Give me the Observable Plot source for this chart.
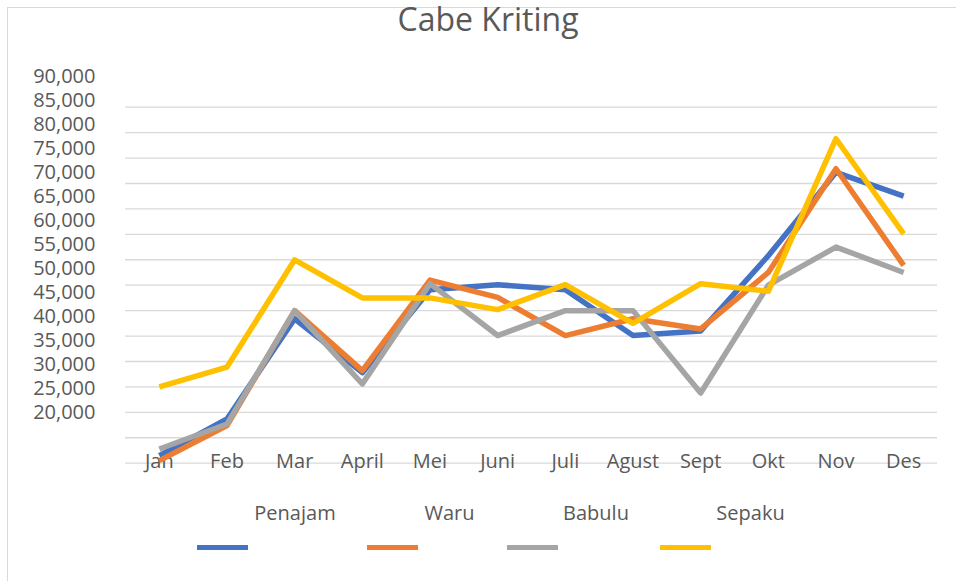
<!DOCTYPE html>
<html>
<head>
<meta charset="utf-8">
<script src="https://cdn.jsdelivr.net/npm/d3@7"></script>
<script src="https://cdn.jsdelivr.net/npm/@observablehq/plot@0.6"></script>
<style>
  html, body { margin: 0; padding: 0; background: #fff; }
  body { width: 956px; height: 581px; position: relative; overflow: hidden; font-family: "Open Sans", sans-serif; }
  #frame { position: absolute; left: 7px; top: 7px; width: 960px; height: 600px; border-left: 1.5px solid #d9d9d9; border-top: 1.5px solid #d9d9d9; }
  #chart { position: absolute; left: 0; top: 0; }
  #title { position: absolute; left: 488px; top: 3px; transform: translateX(-50%); font-size: 32px; line-height: 32px; color: #595959; white-space: nowrap; }
  .lg-text { position: absolute; top: 503px; font-size: 20px; line-height: 20px; color: #595959; transform: translateX(-50%); white-space: nowrap; }
  .lg-sw { position: absolute; top: 545px; width: 51px; height: 5px; }
</style>
</head>
<body>
<div id="frame"></div>
<div id="chart"></div>
<div id="title">Cabe Kriting</div>
<div id="legend"></div>
<script>
const months = ["Jan","Feb","Mar","April","Mei","Juni","Juli","Agust","Sept","Okt","Nov","Des"];
const penajam = [11500,18700,38400,27800,44100,45100,44100,35100,36000,50800,67200,62500];
const waru    = [10500,17400,40000,28200,46000,42600,35100,38400,36400,47500,67900,48900];
const babulu  = [12800,17700,40000,25600,45300,35100,40000,40000,23800,45000,52500,47500];
const sepaku  = [25000,28900,50000,42500,42500,40200,45100,37500,45300,43800,73800,55100];
const seriesNames = ["Penajam","Waru","Babulu","Sepaku"];
const seriesColors = ["#4472C4","#ED7D31","#A5A5A5","#FFC000"];
const yTickLabels = [90000,85000,80000,75000,70000,65000,60000,55000,50000,45000,40000,35000,30000,25000,20000];
const gridValues = [10000,15000,20000,25000,30000,35000,40000,45000,50000,55000,60000,65000,70000,75000,80000];

// legend layout (pixel centers)
const legendTextX = [295, 449.5, 596, 750.5];
const legendSwatchX = [197, 367, 507, 660];

const allSeries = [penajam, waru, babulu, sepaku];

// the printed tick labels sit on a slightly tighter pitch than the gridlines
const labelPos = v => 20000 + (v - 20000) * 0.9438;
const labelMap = new Map(yTickLabels.map(v => [labelPos(v), d3.format(",")(v)]));

const lineMarks = allSeries.map((vals, si) =>
  Plot.line(months.map((m, i) => ({month: m, value: vals[i]})), {
    x: "month", y: "value",
    stroke: seriesColors[si], strokeWidth: 5.5,
    strokeLinecap: "butt", strokeLinejoin: "round"
  })
);

const chart = Plot.plot({
  width: 956,
  height: 581,
  marginLeft: 125,
  marginRight: 19,
  marginTop: 106.7,
  marginBottom: 118.3,
  style: {fontFamily: "Open Sans", color: "#595959", background: "transparent", overflow: "visible"},
  x: {type: "point", domain: months, padding: 0.5, round: false, label: null},
  y: {domain: [10000, 80000], label: null},
  marks: [
    Plot.ruleY(gridValues, {stroke: "#d9d9d9", strokeWidth: 1.3}),
    Plot.axisY([...labelMap.keys()], {tickSize: 0, tickPadding: 30, fontSize: 20, tickFormat: d => labelMap.get(d), label: null}),
    Plot.axisX({tickSize: 0, tickPadding: 0, dy: -9, fontSize: 20, label: null}),
    ...lineMarks
  ]
});
document.getElementById("chart").appendChild(chart);

const legend = document.getElementById("legend");
seriesNames.forEach((name, i) => {
  const t = document.createElement("div");
  t.className = "lg-text";
  t.style.left = legendTextX[i] + "px";
  t.textContent = name;
  legend.appendChild(t);
  const s = document.createElement("div");
  s.className = "lg-sw";
  s.style.left = legendSwatchX[i] + "px";
  s.style.background = seriesColors[i];
  legend.appendChild(s);
});
</script>
</body>
</html>
